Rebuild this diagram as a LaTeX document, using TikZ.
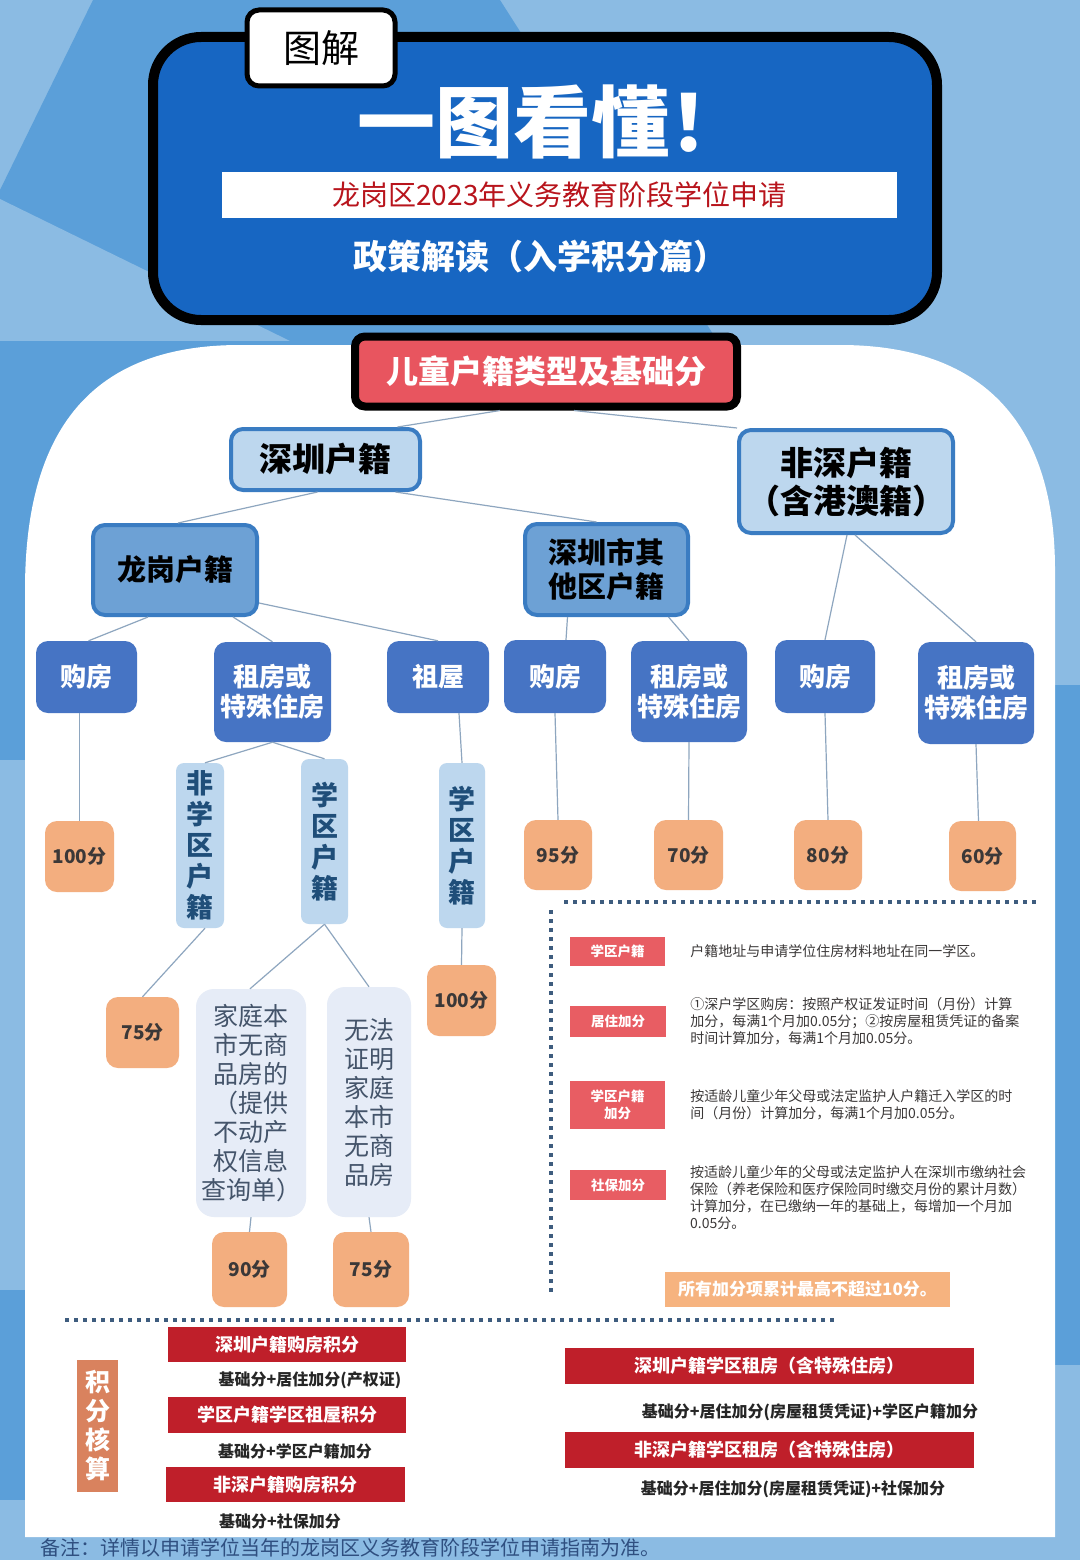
\documentclass[tikz,border=0pt]{standalone}
\usepackage{fontspec}
\setmainfont{Noto Sans CJK SC}
\usetikzlibrary{positioning}
\definecolor{bgLight}{HTML}{8BBBE3}
\definecolor{bgMid}{HTML}{5B9FD9}
\definecolor{titleBlue}{HTML}{1766C2}
\definecolor{hdrRed}{HTML}{E8555F}
\definecolor{stripeRed}{HTML}{B8141C}
\definecolor{oneFill}{HTML}{BDD7EE}
\definecolor{oneDraw}{HTML}{3A7CC2}
\definecolor{twoFill}{HTML}{6DA1D5}
\definecolor{houseBlue}{HTML}{4674C4}
\definecolor{tagText}{HTML}{1F4E79}
\definecolor{scoreFill}{HTML}{F3AE7F}
\definecolor{scoreText}{HTML}{3B3838}
\definecolor{lavender}{HTML}{E6ECF7}
\definecolor{condText}{HTML}{44546A}
\definecolor{linkGray}{HTML}{8EA6BF}
\definecolor{dotBlue}{HTML}{3E5C7E}
\definecolor{tagRed}{HTML}{E85D63}
\definecolor{barRed}{HTML}{BF1F2A}
\definecolor{sumFill}{HTML}{D9825E}
\definecolor{noteFill}{HTML}{F6B37F}
\definecolor{footBlue}{HTML}{2F4F80}
\newcommand{\setsz}[2]{\fontsize{#1}{#2}\selectfont}

\begin{document}
\begin{tikzpicture}[x=1pt, y=-1pt,
  lvlone/.style={rectangle, rounded corners=12pt, draw=oneDraw, line width=4pt, fill=oneFill, inner sep=0pt, align=center, font=\setsz{33}{38}\bfseries},
  lvltwo/.style={lvlone, fill=twoFill, font=\setsz{29}{34}\bfseries},
  house/.style={rectangle, rounded corners=12pt, fill=houseBlue, text=white, inner sep=0pt, align=center, font=\setsz{26}{30}\bfseries},
  vtag/.style={rectangle, rounded corners=8pt, fill=oneFill, text=tagText, inner sep=0pt, align=center, font=\setsz{27}{31}\bfseries},
  score/.style={rectangle, rounded corners=12pt, fill=scoreFill, text=scoreText, inner sep=0pt, font=\setsz{19}{22}\bfseries},
  cond/.style={rectangle, rounded corners=18pt, fill=lavender, text=condText, inner sep=0pt, align=center, font=\setsz{25}{29}},
  link/.style={draw=linkGray, line width=1.2pt},
  sep/.style={draw=dotBlue, line width=3.5pt, dash pattern=on 4pt off 5pt},
  tag/.style={rectangle, fill=tagRed, text=white, inner sep=0pt, align=center, font=\setsz{13.5}{17}\bfseries},
  desc/.style={anchor=west, inner sep=0pt, align=left, text=scoreText, font=\setsz{14}{17}},
  bar/.style={rectangle, fill=barRed, text=white, inner sep=0pt, font=\setsz{18}{22}\bfseries},
  formula/.style={inner sep=0pt, text=black!85, font=\setsz{16}{20}\bfseries}
]
\useasboundingbox (0,0) rectangle (1080,1560);
% background
\fill[bgLight] (0,0) rectangle (1080,1560);
\fill[bgMid] (93,0) -- (500,0) -- (720,345) -- (0,345) -- (0,190) -- cycle;
\fill[bgLight] (0,199) -- (290,341) -- (0,341) -- cycle;
\fill[bgMid] (0,341) rectangle (400,760);
\fill[bgMid] (0,1290) rectangle (40,1500);
\fill[bgMid] (1040,685) rectangle (1080,1365);
\fill[white] (25,1537) -- (25,590) .. controls (25,420) and (100,345) .. (240,345)
  -- (840,345) .. controls (980,345) and (1055,420) .. (1055,570) -- (1055,1537) -- cycle;

% title
\node[rectangle, rounded corners=48pt, draw=black, line width=10pt, fill=titleBlue, minimum width=784pt, minimum height=283pt] (title) at (545,178.5) {};
\node[rectangle, rounded corners=12pt, draw=black, line width=5pt, fill=white, minimum width=148pt, minimum height=76pt, font=\setsz{38}{40}] (tab) at (321,48) {图解};
\node[text=white, font=\setsz{78}{90}\bfseries] (big) at (552,122) {一图看懂！};
\node[fill=white, minimum width=675pt, minimum height=46pt, inner sep=0pt, text=stripeRed, font=\setsz{28}{32}] (stripe) at (559.5,195) {龙岗区2023年义务教育阶段学位申请};
\node[text=white, font=\setsz{34}{38}\bfseries] (sub) at (540,257) {政策解读（入学积分篇）};

% tree
\node[rectangle, rounded corners=10pt, draw=black, line width=8pt, fill=hdrRed, text=white, minimum width=382pt, minimum height=70pt, inner sep=0pt, font=\setsz{32}{36}\bfseries] (hdr) at (546,371.5) {儿童户籍类型及基础分};
\node[lvlone, minimum width=189pt, minimum height=61pt] (sz) at (325.5,459.5) {深圳户籍};
\node[lvlone, minimum width=214pt, minimum height=103pt] (fs) at (846,481.5) {非深户籍\\（含港澳籍）};
\node[lvltwo, minimum width=164pt, minimum height=90pt] (lg) at (175,570) {龙岗户籍};
\node[lvltwo, minimum width=163pt, minimum height=91pt] (oth) at (606.5,569.5) {深圳市其\\他区户籍};
\draw[link] ([xshift=-46pt]hdr.south) -- ([xshift=72pt]sz.north);
\draw[link] ([xshift=28pt]hdr.south) -- (fs.north west);
\draw[link] ([xshift=-8pt]sz.south) -- ([xshift=3pt]lg.north);
\draw[link] ([xshift=70pt]sz.south) -- ([xshift=-10pt]oth.north);

\node[house, minimum width=101pt, minimum height=72pt] (gf1) at (86.5,677) {购房};
\node[house, minimum width=117pt, minimum height=100pt] (zf1) at (272.5,692) {租房或\\特殊住房};
\node[house, minimum width=102pt, minimum height=72pt] (zw) at (438,677) {祖屋};
\node[house, minimum width=102pt, minimum height=73pt] (gf2) at (555,676.5) {购房};
\node[house, minimum width=116pt, minimum height=101pt] (zf2) at (689,691.5) {租房或\\特殊住房};
\node[house, minimum width=100pt, minimum height=73pt] (gf3) at (825,676.5) {购房};
\node[house, minimum width=116pt, minimum height=102pt] (zf3) at (976,693) {租房或\\特殊住房};
\draw[link] ([xshift=-27pt]lg.south) -- ([xshift=2pt]gf1.north);
\draw[link] ([xshift=58pt]lg.south) -- (zf1.north);
\draw[link] ([yshift=-33pt]lg.east) -- (zw.north);
\draw[link] ([xshift=-39pt]oth.south) -- ([xshift=11pt]gf2.north);
\draw[link] ([xshift=62pt]oth.south) -- (zf2.north);
\draw[link] ([xshift=1pt]fs.south) -- (gf3.north);
\draw[link] ([xshift=9pt]fs.south) -- (zf3.north);

\node[vtag, minimum width=48pt, minimum height=165pt] (nxq) at (200,845.5) {非\\学\\区\\户\\籍};
\node[vtag, minimum width=47pt, minimum height=165pt] (xq1) at (324.5,841.5) {学\\区\\户\\籍};
\node[vtag, minimum width=46pt, minimum height=165pt] (xq2) at (462,845.5) {学\\区\\户\\籍};
\draw[link] (zf1.south) -- ([xshift=5pt]nxq.north);
\draw[link] (zf1.south) -- (xq1.north);
\draw[link] ([xshift=21pt]zw.south) -- (xq2.north);

\node[score, minimum width=69pt, minimum height=71pt] (s100a) at (79.5,856.5) {100分};
\node[score, minimum width=68pt, minimum height=70pt] (s95) at (558,855) {95分};
\node[score, minimum width=69pt, minimum height=70pt] (s70) at (688.5,855) {70分};
\node[score, minimum width=68pt, minimum height=70pt] (s80) at (828,855) {80分};
\node[score, minimum width=67pt, minimum height=70pt] (s60) at (982.5,856) {60分};
\node[score, minimum width=73pt, minimum height=71pt] (s75a) at (142.5,1032.5) {75分};
\node[score, minimum width=69pt, minimum height=71pt] (s100b) at (461.5,1000.5) {100分};
\draw[link] ([xshift=-7pt]gf1.south) -- (s100a.north);
\draw[link] (gf2.south) -- (s95.north);
\draw[link] (zf2.south) -- (s70.north);
\draw[link] (gf3.south) -- (s80.north);
\draw[link] (zf3.south) -- ([xshift=-4pt]s60.north);
\draw[link] ([xshift=5pt]nxq.south) -- (s75a.north);
\draw[link] (xq2.south) -- (s100b.north);

\node[cond, minimum width=110pt, minimum height=228pt] (condA) at (251,1103) {家庭本\\市无商\\品房的\\（提供\\不动产\\权信息\\查询单）};
\node[cond, minimum width=84pt, minimum height=230pt] (condB) at (369,1102) {无法\\证明\\家庭\\本市\\无商\\品房};
\draw[link] (xq1.south) -- ([xshift=-1pt]condA.north);
\draw[link] (xq1.south) -- (condB.north);
\node[score, minimum width=75pt, minimum height=75pt] (s90) at (249.5,1269.5) {90分};
\node[score, minimum width=76pt, minimum height=75pt] (s75b) at (371,1269.5) {75分};
\draw[link] (condA.south) -- (s90.north);
\draw[link] (condB.south) -- (s75b.north);

% legend
\draw[sep] (564,902) -- (1037,902);
\draw[sep] (551,910) -- (551,1292);
\draw[sep] (65,1320) -- (835,1320);
\node[tag, minimum width=95pt, minimum height=29pt] (t1) at (617.5,951.5) {学区户籍};
\node[tag, minimum width=96pt, minimum height=31pt] (t2) at (618,1021.5) {居住加分};
\node[tag, minimum width=95pt, minimum height=48pt] (t3) at (617.5,1105) {学区户籍\\加分};
\node[tag, minimum width=96pt, minimum height=30pt] (t4) at (618,1185) {社保加分};
\node[desc, right=25pt of t1] (d1) {户籍地址与申请学位住房材料地址在同一学区。};
\node[desc, right=24pt of t2] (d2) {①深户学区购房：按照产权证发证时间（月份）计算\\加分，每满1个月加0.05分；②按房屋租赁凭证的备案\\时间计算加分，每满1个月加0.05分。};
\node[desc, right=25pt of t3] (d3) {按适龄儿童少年父母或法定监护人户籍迁入学区的时\\间（月份）计算加分，每满1个月加0.05分。};
\node[desc] (d4) at (690,1197.5) {按适龄儿童少年的父母或法定监护人在深圳市缴纳社会\\保险（养老保险和医疗保险同时缴交月份的累计月数）\\计算加分，在已缴纳一年的基础上，每增加一个月加\\0.05分。};
\node[fill=noteFill, text=white, minimum width=285pt, minimum height=35pt, inner sep=0pt, font=\setsz{17}{20}\bfseries] (note) at (807.5,1289.5) {所有加分项累计最高不超过10分。};

% scoring
\node[fill=sumFill, text=white, minimum width=41pt, minimum height=132pt, inner sep=0pt, align=center, font=\setsz{25}{29}\bfseries] (sum) at (97.5,1426) {积\\分\\核\\算};
\node[bar, minimum width=238pt, minimum height=35pt] (b1) at (287,1344.5) {深圳户籍购房积分};
\node[formula] (f1) at (310,1380) {基础分+居住加分(产权证)};
\node[bar, minimum width=238pt, minimum height=36pt] (b2) at (287,1415) {学区户籍学区祖屋积分};
\node[formula] (f2) at (295,1451) {基础分+学区户籍加分};
\node[bar, minimum width=239pt, minimum height=35pt] (b3) at (285.5,1484.5) {非深户籍购房积分};
\node[formula] (f3) at (280,1521) {基础分+社保加分};
\node[bar, minimum width=409pt, minimum height=36pt] (b4) at (769.5,1366) {深圳户籍学区租房（含特殊住房）};
\node[formula] (f4) at (810,1412) {基础分+居住加分(房屋租赁凭证)+学区户籍加分};
\node[bar, minimum width=409pt, minimum height=36pt] (b5) at (769.5,1450) {非深户籍学区租房（含特殊住房）};
\node[formula] (f5) at (793,1489) {基础分+居住加分(房屋租赁凭证)+社保加分};
\node[anchor=west, inner sep=0pt, text=footBlue, font=\setsz{20}{22}] (foot) at (40,1548) {备注：详情以申请学位当年的龙岗区义务教育阶段学位申请指南为准。};
\end{tikzpicture}
\end{document}
